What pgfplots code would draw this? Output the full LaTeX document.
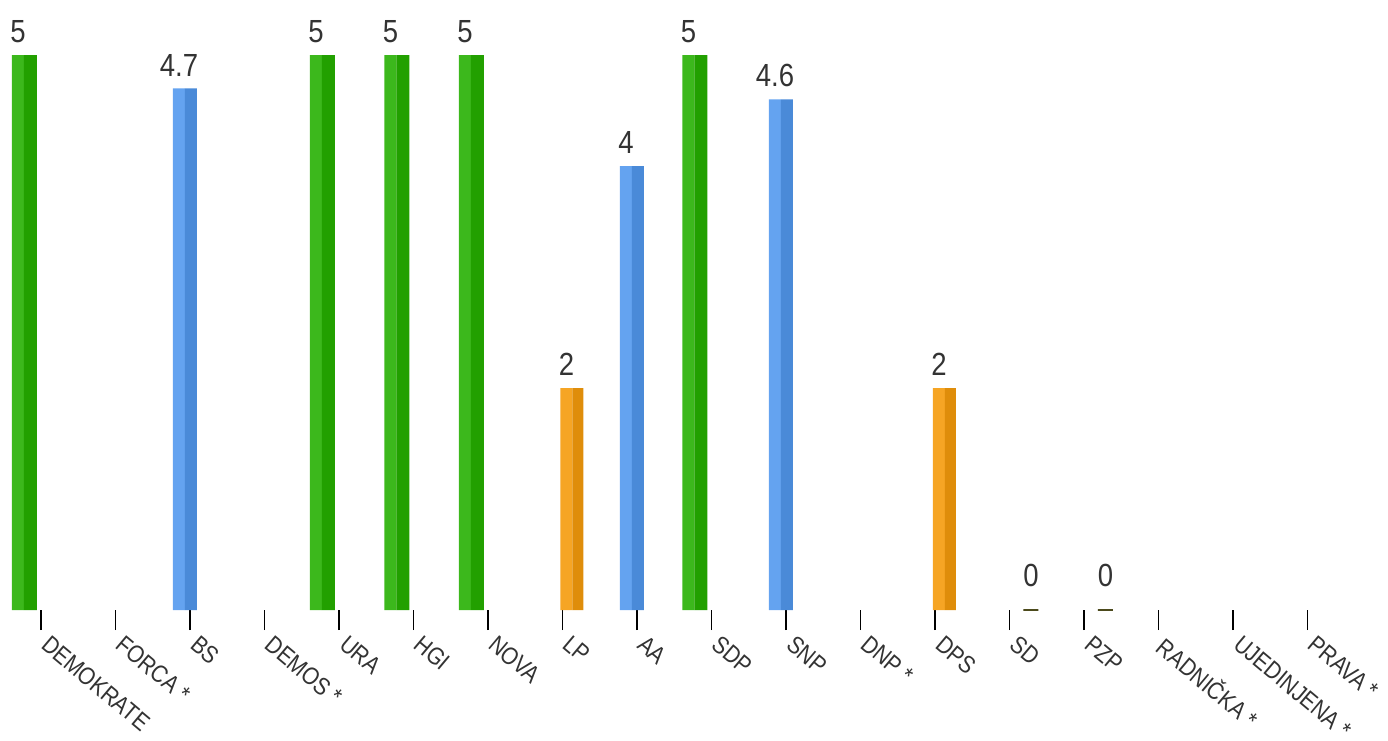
\documentclass[border=0pt]{standalone}
\usepackage{pgfplots}
\pgfplotsset{compat=1.18}
\usepackage{fontspec}
\setmainfont{Liberation Sans}[FakeStretch=0.86]
\definecolor{gF}{HTML}{3CB81C}
\definecolor{gS}{HTML}{22A000}
\definecolor{bF}{HTML}{64A3F0}
\definecolor{bS}{HTML}{4A8AD8}
\definecolor{oF}{HTML}{F6A524}
\definecolor{oS}{HTML}{DF8D0A}
\definecolor{dk}{HTML}{4C4A1C}
\definecolor{tc}{HTML}{333333}
\begin{document}
\begin{tikzpicture}
\path[use as bounding box] (0pt,0pt) rectangle (1388pt,740pt);
\begin{axis}[
  at={(0pt,130pt)}, anchor=south west,
  scale only axis, width=1388pt, height=610.5pt,
  xmin=-0.5503, xmax=18.081, ymin=0, ymax=5.5,
  clip=false,
  axis line style={draw=none},
  ytick=\empty,
  xtick={0,...,17},
  xticklabels={DEMOKRATE,FORCA *,BS,DEMOS *,URA,HGI,NOVA,LP,AA,SDP,SNP,DNP *,DPS,SD,PZP,RADNIČKA *,UJEDINJENA *,PRAVA *},
  xtick pos=left,
  tick align=outside,
  major tick length=20pt,
  tick style={black, line width=1.6pt},
  xticklabel style={xshift=10pt, yshift=-4pt, rotate=-40, anchor=north west, font=\fontsize{24.5}{28}\selectfont, text=tc, inner sep=0pt},
  /pgf/number format/assume math mode=true,
  nodes near coords style={anchor=south, inner sep=0pt, yshift=12pt, font=\fontsize{32}{34}\selectfont, text=tc},
]
% green
\addplot[ybar, bar width=12pt, bar shift=-23pt, fill=gF, draw=none, nodes near coords, nodes near coords style={xshift=-23pt}] coordinates {(0,5) (4,5) (5,5) (6,5) (9,5)};
\addplot[ybar, bar width=13pt, bar shift=-10.5pt, fill=gS, draw=none] coordinates {(0,5) (4,5) (5,5) (6,5) (9,5)};
% blue
\addplot[ybar, bar width=12pt, bar shift=-11pt, fill=bF, draw=none, nodes near coords, nodes near coords style={xshift=-11pt}] coordinates {(2,4.7) (8,4) (10,4.6)};
\addplot[ybar, bar width=12pt, bar shift=1pt, fill=bS, draw=none] coordinates {(2,4.7) (8,4) (10,4.6)};
% orange
\addplot[ybar, bar width=12pt, bar shift=4pt, fill=oF, draw=none, nodes near coords, nodes near coords style={xshift=4pt}] coordinates {(7,2) (12,2)};
\addplot[ybar, bar width=11pt, bar shift=15.5pt, fill=oS, draw=none] coordinates {(7,2) (12,2)};
% dark
\addplot[ybar, bar width=15pt, bar shift=21.5pt, fill=dk, draw=dk, line width=2.5pt, nodes near coords, nodes near coords style={yshift=10pt, xshift=21.5pt}] coordinates {(13,0) (14,0)};
\end{axis}
\end{tikzpicture}
\end{document}
